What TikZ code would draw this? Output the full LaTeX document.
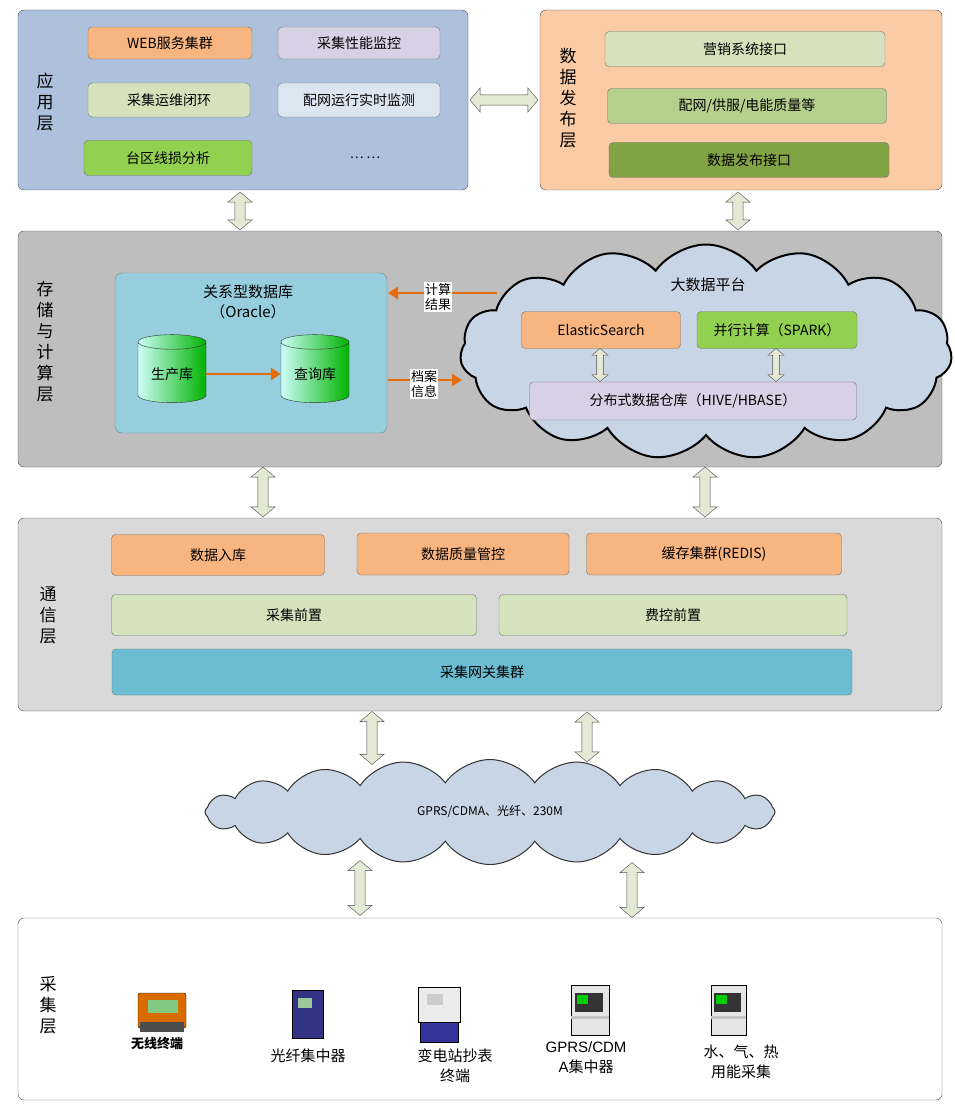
\documentclass[tikz,border=0pt]{standalone}
\usepackage{fontspec}
\setmainfont{Noto Sans CJK SC}
\newfontfamily\arialf{Liberation Sans}
\newfontfamily\cjkf{Noto Sans CJK SC}
\usetikzlibrary{shapes.geometric,shapes.symbols,shapes.arrows,arrows.meta}
\definecolor{appblue}{HTML}{AEC1DC}
\definecolor{pubpeach}{HTML}{FBCBA6}
\definecolor{storegrey}{HTML}{BEBEBE}
\definecolor{commgrey}{HTML}{D9D9D9}
\definecolor{boxorange}{HTML}{F8B580}
\definecolor{boxlav}{HTML}{D8D0E5}
\definecolor{boxlgreen}{HTML}{D5E3BC}
\definecolor{boxpale}{HTML}{DCE6F1}
\definecolor{boxgreen}{HTML}{92D050}
\definecolor{boxmid}{HTML}{B5D08C}
\definecolor{boxdark}{HTML}{82A344}
\definecolor{dbcyan}{HTML}{96CEDE}
\definecolor{gwcyan}{HTML}{6CBDD1}
\definecolor{cloudblue}{HTML}{C8D5E5}
\definecolor{arrorange}{HTML}{E46C0A}
\definecolor{dblfill}{HTML}{E3E9D4}
\tikzset{
  layer/.style={draw=black!70, rounded corners=6pt},
  item/.style={draw=black!55, rounded corners=4pt, font=\fontsize{14}{16}\selectfont},
  dblbase/.style={double arrow, draw=black!70, fill=dblfill, minimum width=24pt,
    double arrow head extend=5pt, inner sep=3.5pt, double arrow tip angle=100},
  dbl/.style={dblbase, rotate=90},
  hdbl/.style={dblbase},
  ora/.style={draw=arrorange, line width=2.5pt, -{Triangle[length=10pt,width=12pt]}},
  db/.style={cylinder, shape border rotate=90, aspect=0.3, draw=black!80,
    minimum width=68pt, minimum height=68pt, left color=green!15!cyan!20, right color=green!70!black,
    font=\fontsize{14}{16}\selectfont},
  lbl/.style={font=\fontsize{17}{21}\selectfont, align=center},
}
\begin{document}
\begin{tikzpicture}[x=1pt,y=-1pt]
\useasboundingbox (0,0) rectangle (954,1118);
% layers
\draw[layer, fill=appblue] (18,10) rectangle (468,190);
\draw[layer, fill=pubpeach] (540,10) rectangle (942,190);
\draw[layer, fill=storegrey] (18,231) rectangle (942,467);
\draw[layer, fill=commgrey] (18,518) rectangle (942,711);
\draw[layer, fill=white] (18,918) rectangle (942,1100);
\node[lbl] (appL) at (45,102) {应\\用\\层};
\node[lbl] (pubL) at (568,98) {数\\据\\发\\布\\层};
\node[lbl] (stoL) at (45,342) {存\\储\\与\\计\\算\\层};
\node[lbl] (comL) at (48,615) {通\\信\\层};
\node[lbl] (colL) at (48,1005) {采\\集\\层};
% application layer
\node[item, fill=boxorange, minimum width=164pt, minimum height=32pt] (web) at (170,43) {WEB服务集群};
\node[item, fill=boxlav, minimum width=162pt, minimum height=32pt] (perf) at (359,43) {采集性能监控};
\node[item, fill=boxlgreen, minimum width=162pt, minimum height=34pt] (ops) at (169,100) {采集运维闭环};
\node[item, fill=boxpale, minimum width=162pt, minimum height=34pt] (grid) at (359,100) {配网运行实时监测};
\node[item, fill=boxgreen, minimum width=168pt, minimum height=35pt] (loss) at (168,158) {台区线损分析};
\node[font=\fontsize{13}{14}\selectfont] (dots) at (365,158) {… …};
% publishing layer
\node[item, fill=boxlgreen, minimum width=280pt, minimum height=35pt] (mkt) at (745,49) {营销系统接口};
\node[item, fill=boxmid, minimum width=279pt, minimum height=35pt] (pq) at (747,106) {配网/供服/电能质量等};
\node[item, fill=boxdark, minimum width=280pt, minimum height=35pt] (pub) at (749,160) {数据发布接口};
% layer links
\node[hdbl, minimum height=68pt] (lnkAP) at (504,100) {};
\node[dbl, minimum height=38pt] (lnkA) at (240,211) {};
\node[dbl, minimum height=38pt] (lnkP) at (738,211) {};
% storage layer
\draw[draw=black!50, fill=dbcyan, rounded corners=7pt] (115,273) rectangle (387,433);
\node[lbl, font=\fontsize{15}{20}\selectfont] (rdb) at (248,302) {关系型数据库\\（Oracle）};
\node[db] (prod) at (172,374) {生产库};
\node[db] (qry) at (315,374) {查询库};
\draw[ora] (prod.east) -- (qry.west);
\node[cloud, cloud puffs=15, cloud puff arc=110, aspect=2.3, draw=black, line width=2pt,
  fill=cloudblue, minimum width=492pt, minimum height=215pt] (big) at (706,352) {};
\node[font=\fontsize{15}{18}\selectfont] (bigT) at (708,285) {大数据平台};
\node[item, fill=boxorange, minimum width=159pt, minimum height=37pt] (es) at (601,330) {ElasticSearch};
\node[item, fill=boxgreen, minimum width=160pt, minimum height=37pt] (spark) at (777,330) {并行计算（SPARK）};
\node[item, fill=boxlav, minimum width=327pt, minimum height=38pt] (hive) at (693,401) {分布式数据仓库（HIVE/HBASE）};
\node[dbl, minimum width=16pt, inner sep=2pt, double arrow head extend=3pt, minimum height=33pt] (lnkES) at (600,365) {};
\node[dbl, minimum width=16pt, inner sep=2pt, double arrow head extend=3pt, minimum height=33pt] (lnkSP) at (776,365) {};
\coordinate (resS) at (497,293);
\coordinate (resE) at (388,293);
\draw[ora] (resS) -- (resE);
\node[fill=white, inner sep=1pt, font=\fontsize{13}{15}\selectfont, align=center] (resT) at (438,297) {计算\\结果};
\coordinate (arcS) at (388,380);
\coordinate (arcE) at (462,380);
\draw[ora] (arcS) -- (arcE);
\node[fill=white, inner sep=1pt, font=\fontsize{13}{15}\selectfont, align=center] (arcT) at (424,384) {档案\\信息};
\node[dbl, minimum height=50pt] (lnkS1) at (263,492) {};
\node[dbl, minimum height=50pt] (lnkS2) at (705,492) {};
% communication layer
\node[item, fill=boxorange, minimum width=213pt, minimum height=41pt] (inDB) at (218,555) {数据入库};
\node[item, fill=boxorange, minimum width=212pt, minimum height=42pt] (qual) at (463,554) {数据质量管控};
\node[item, fill=boxorange, minimum width=255pt, minimum height=42pt] (redis) at (714,554) {缓存集群(REDIS)};
\node[item, fill=boxlgreen, minimum width=365pt, minimum height=41pt] (fep) at (294,615) {采集前置};
\node[item, fill=boxlgreen, minimum width=348pt, minimum height=41pt] (fee) at (673,615) {费控前置};
\node[item, fill=gwcyan, minimum width=740pt, minimum height=46pt] (gw) at (482,672) {采集网关集群};
\node[dbl, minimum height=53pt] (lnkC1) at (372,738) {};
\node[dbl, minimum height=50pt] (lnkC2) at (587,737) {};
% network cloud
\node[cloud, cloud puffs=20, cloud puff arc=110, aspect=5.5, draw=black!80, line width=1pt,
  fill=cloudblue, minimum width=570pt, minimum height=105pt, font=\fontsize{12}{14}\selectfont] (net) at (490,812) {GPRS/CDMA、光纤、230M};
\node[dbl, minimum height=55pt] (lnkN1) at (360,888) {};
\node[dbl, minimum height=55pt] (lnkN2) at (632,890) {};
% collection layer devices
\draw[fill=orange!85!black, rounded corners=2pt] (138,993) rectangle (186,1028);
\fill[black!70] (140,1022) rectangle (184,1032);
\fill[green!40!gray!70] (148,1000) rectangle (178,1013);
\node[font=\bfseries\fontsize{13}{15}\selectfont] (dev1) at (157,1044) {无线终端};
\draw[fill=blue!40!black!80] (292,990) rectangle (323,1038);
\fill[green!30!gray!60] (298,998) rectangle (312,1008);
\node[font=\fontsize{15}{17}\selectfont] (dev2) at (308,1056) {光纤集中器};
\draw[fill=gray!15] (418,987) rectangle (460,1022);
\draw[fill=blue!50!black!80] (420,1022) rectangle (458,1042);
\fill[gray!40] (427,994) rectangle (443,1005);
\node[lbl, font=\fontsize{15}{20}\selectfont] (dev3) at (455,1066) {变电站抄表\\终端};
\draw[fill=gray!20] (571,985) rectangle (609,1035);
\fill[gray!45] (571,1016) rectangle (609,1019);
\fill[black!80] (575,993) rectangle (603,1012);
\fill[green!80!black] (577,995) rectangle (588,1004);
\node[lbl, font=\arialf\fontsize{15}{20}\selectfont] (dev4) at (586,1058) {GPRS/CDM\\A{\cjkf 集中器}};
\draw[fill=gray!20] (711,985) rectangle (746,1035);
\fill[gray!45] (711,1016) rectangle (746,1019);
\fill[black!80] (714,993) rectangle (741,1012);
\fill[green!80!black] (716,995) rectangle (727,1004);
\node[lbl, font=\fontsize{15}{20}\selectfont] (dev5) at (741,1062) {水、气、热\\用能采集};
\end{tikzpicture}
\end{document}
